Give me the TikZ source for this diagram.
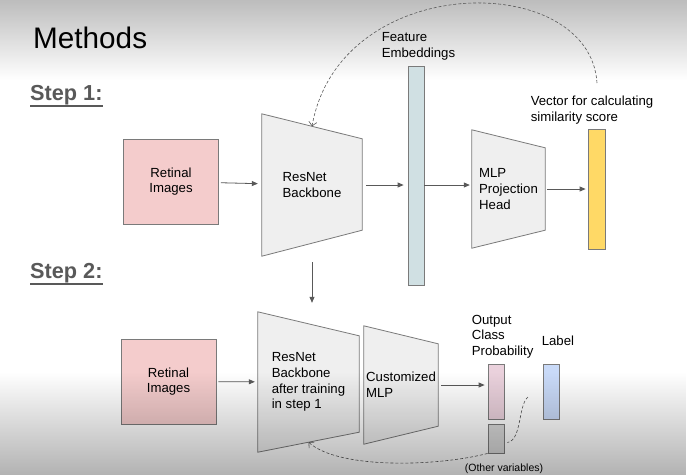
\documentclass[tikz,border=0pt]{standalone}
\usepackage{fontspec}
\setmainfont{Liberation Sans}
\usepackage{xcolor}
\usepackage{tikz}
\usetikzlibrary{positioning,arrows.meta,backgrounds,fadings}

\definecolor{imgpink}{HTML}{F4CCCC}
\definecolor{trapgray}{HTML}{EFEFEF}
\definecolor{featblue}{HTML}{D0E0E3}
\definecolor{vecyellow}{HTML}{FFD966}
\definecolor{probpink}{HTML}{EAD1DC}
\definecolor{othergray}{HTML}{D9D9D9}
\definecolor{labelblue}{HTML}{C9DAF8}
\definecolor{edgegray}{HTML}{7A7A7A}
\definecolor{linegray}{HTML}{595959}

\begin{document}
\begin{tikzpicture}[
  x=1pt, y=-1pt,
  txt/.style={font=\fontsize{13.2}{15.8}\selectfont, align=left, inner sep=0pt},
  box/.style={draw=edgegray, fill=imgpink, line width=0.8pt, minimum width=95pt,
              minimum height=85pt, txt, align=center},
  trapnode/.style={txt, inner sep=0pt},
  trapfill/.style={draw=edgegray, fill=trapgray, line width=0.8pt},
  bar/.style={draw=edgegray, line width=0.8pt, minimum width=16pt, inner sep=0pt},
  steplbl/.style={font=\fontsize{21.7}{22}\bfseries\selectfont, text=linegray, inner sep=0pt},
  arrow/.style={-{Triangle[length=6pt,width=5pt]}, draw=linegray, line width=0.8pt},
  dashline/.style={draw=linegray, line width=0.6pt, dash pattern=on 3pt off 2pt},
  dasharrow/.style={dashline, -{Straight Barb[length=4pt,width=8pt]}}
]
  \useasboundingbox (0,0) rectangle (687,475);
  % Titles
  \node[font=\fontsize{29.7}{30}\selectfont, inner sep=0pt, anchor=base west] (title) at (33,48) {Methods};
  \node[steplbl, anchor=base west] (step1) at (30,100) {Step 1:};
  \node[steplbl, anchor=base west] (step2) at (30,278) {Step 2:};
  \draw[linegray, line width=2pt] ([yshift=-6pt]step1.base west) -- ([yshift=-6pt]step1.base east);
  \draw[linegray, line width=2pt] ([yshift=-6pt]step2.base west) -- ([yshift=-6pt]step2.base east);

  % Step 1
  \node[box] (img1) at (171,181.5) {Retinal\\Images};
  \node[trapnode, minimum width=100pt, minimum height=142pt] (res1) at (312,185) {ResNet\\Backbone};
  \node[bar, fill=featblue, minimum height=219pt] (fe) at (416,175.5) {};
  \node[trapnode, minimum width=73pt, minimum height=118pt] (mlp1) at (508.5,189) {MLP\\Projection\\Head};
  \node[bar, fill=vecyellow, minimum width=17pt, minimum height=120pt] (vec) at (596.5,189) {};
  \node[txt, anchor=south west] (felbl) at ([xshift=-26pt,yshift=5pt]fe.north west) {Feature\\Embeddings};
  \node[txt, anchor=south west] (veclbl) at ([xshift=-57pt,yshift=4pt]vec.north west) {Vector for calculating\\similarity score};
  \coordinate (loopstart) at (597,83);

  % Step 2
  \node[box] (img2) at (168.5,381.5) {Retinal\\Images};
  \node[trapnode, minimum width=101pt, minimum height=140pt] (res2) at (308.5,382) {ResNet\\Backbone\\after training\\in step 1};
  \node[trapnode, minimum width=74pt, minimum height=118pt] (mlp2) at (401,385) {Customized\\MLP};
  \node[bar, fill=probpink, minimum height=55pt] (prob) at (496,391.5) {};
  \node[bar, fill=othergray, minimum height=29pt] (other) at (496,438.5) {};
  \node[bar, fill=labelblue, minimum height=55pt] (lab) at (551,391.5) {};
  \node[txt, anchor=south west] (problbl) at ([xshift=-16pt,yshift=5pt]prob.north west) {Output\\Class\\Probability};
  \node[txt, anchor=south west] (lablbl) at ([xshift=-1pt,yshift=18pt]lab.north west) {Label};
  \node[txt, font=\fontsize{10.5}{12}\selectfont, anchor=base] (otherlbl) at (504,471) {(Other variables)};
  \coordinate (vardash) at (528,397);

  \begin{scope}[on background layer]
    \fill[white] (0,0) rectangle (687,475);
    \shade[top color=black!26, bottom color=white] (0,0) rectangle (687,80);
    \draw[trapfill] (res1.north west) -- ([yshift=-25pt]res1.north east) -- ([yshift=26pt]res1.south east) -- (res1.south west) -- cycle;
    \draw[trapfill] (mlp1.north west) -- ([yshift=-18pt]mlp1.north east) -- ([yshift=18pt]mlp1.south east) -- (mlp1.south west) -- cycle;
    \draw[trapfill] (res2.north west) -- ([yshift=-24pt]res2.north east) -- ([yshift=20pt]res2.south east) -- (res2.south west) -- cycle;
    \draw[trapfill] (mlp2.north west) -- ([yshift=-18pt]mlp2.north east) -- ([yshift=18pt]mlp2.south east) -- (mlp2.south west) -- cycle;
  \end{scope}

  \draw[arrow, shorten <=2pt, shorten >=4pt] (img1) -- (res1);
  \draw[arrow, shorten <=4pt, shorten >=4pt] (res1.east) -- (res1.east -| fe.west);
  \draw[arrow, shorten >=2pt] (fe.east |- res1.east) -- (mlp1.west |- res1.east);
  \draw[arrow, shorten <=2pt, shorten >=2pt] (mlp1) -- (vec);
  \draw[dasharrow] (loopstart) .. controls (590,-30) and (340,-30) .. ([yshift=-12.5pt]res1.north);
  \draw[arrow, shorten <=6pt, shorten >=9pt] (res1.south) -- (res1.south |- res2.north);

  \draw[arrow, shorten <=2pt, shorten >=3pt] (img2) -- (res2);
  \draw[arrow, shorten <=3pt, shorten >=3pt] (mlp2.east) -- (mlp2.east -| prob.west);
  \draw[dashline] (vardash) .. controls (518,405) and (522,440) .. ([xshift=3pt,yshift=-4pt]other.east);
  \draw[dasharrow] (other.south west) .. controls (440,466) and (340,470) .. ([yshift=10pt]res2.south);

  \fill[black, fill opacity=0.3, path fading=north] (0,372) rectangle (687,475);
\end{tikzpicture}
\end{document}
